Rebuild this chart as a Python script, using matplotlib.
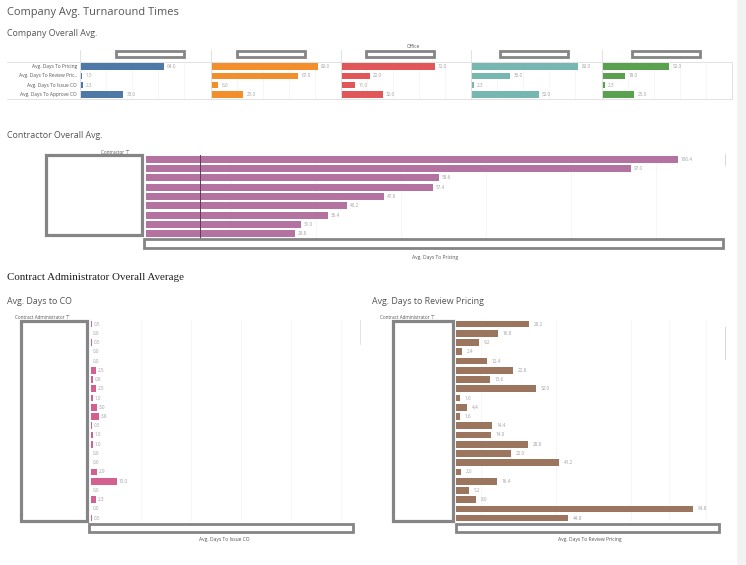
import matplotlib.pyplot as plt
from matplotlib.patches import Rectangle
from matplotlib.lines import Line2D

W, H = 746, 565

# company overall averages (days), one list per office, rows follow `measures`
measures = ["Avg. Days To Pricing", "Avg. Days To Review Pric..",
            "Avg. Days To Issue CO", "Avg. Days To Approve CO"]
office_1 = [64, 1.5, 2.3, 33]
office_2 = [82, 67, 6, 25]
office_3 = [72, 22, 11, 32]
office_4 = [82, 30, 2.3, 52]
office_5 = [52, 18, 2.3, 25]
office_colors = ["#4e79a7", "#f28e2b", "#e15759", "#76b7b2", "#59a14f"]

# contractor overall avg days to pricing (sorted desc) + reference line
contractor_days = [106.4, 97.0, 58.6, 57.4, 47.6, 40.2, 36.4, 31.0, 29.8]
contractor_ref = 10.8

# contract administrator averages
admin_days_co = [0.5, 0, 0.5, 0, 0, 2.5, 0.8, 2.5, 1.0, 3.0, 3.8,
                 0.5, 1.0, 1.0, 0, 0, 2.9, 13.0, 0, 2.3, 0, 0.5]
admin_days_review = [29.2, 16.8, 9.2, 2.4, 12.4, 22.8, 13.6, 32.0, 1.6, 4.4, 1.6,
                     14.4, 14.0, 28.8, 22.0, 41.2, 2.0, 16.4, 5.2, 8.0, 94.8, 44.8]

plt.rcParams['font.family'] = ['Open Sans', 'DejaVu Sans']

fig = plt.figure(figsize=(W / 100, H / 100), dpi=100)


def fx(x):
    return x / W


def fy(y):
    return 1 - y / H


def px_axes(x0, y0, x1, y1):
    ax = fig.add_axes([fx(x0), fy(y1), (x1 - x0) / W, (y1 - y0) / H])
    ax.axis('off')
    return ax


def line(x0, y0, x1, y1, c="#e2e2e2", lw=0.7):
    fig.add_artist(Line2D([fx(x0), fx(x1)], [fy(y0), fy(y1)], color=c, lw=lw))


def box(x0, y0, x1, y1, ec="#858585", lw=2.0, fc="none"):
    fig.add_artist(Rectangle((fx(x0), fy(y1)), (x1 - x0) / W, (y1 - y0) / H,
                             fill=(fc != "none"), fc=fc, ec=ec, lw=lw))


def label(x, y, s, size=3.6, color="#555555", ha="left", **kw):
    fig.text(fx(x), fy(y), s, fontsize=size, color=color, ha=ha, va="center", **kw)


def hbars(ax, vals, color, xmax, nrows, gap, height=0.72, grid=None):
    for g in (grid or []):
        ax.axvline(g, color="#f5f5f5", lw=0.6, zorder=0)
    ax.barh(range(len(vals)), vals, height=height, color=color, zorder=2)
    for i, v in enumerate(vals):
        ax.text(v + gap, i, f"{v:.1f}", fontsize=3.3, color="#a0a0a0",
                va="center", zorder=3)
    ax.set_xlim(0, xmax)
    ax.set_ylim(nrows - 0.5, -0.5)


# right-hand page strip
box(737, 0, 746, 565, ec="none", lw=0, fc="#f2f2f2")

# ---- titles ----
label(7, 13, "Company Avg. Turnaround Times", size=7.9, color="#555555")
label(7, 33, "Company Overall Avg.", size=6.4, color="#555555")

# ---- company overall avg ----
edges = [80, 210.5, 341, 471, 601.5, 732]
offices = [office_1, office_2, office_3, office_4, office_5]
header_centers = [150, 271, 400, 534, 666]
line(7, 62, 732, 62)
line(7, 99, 732, 99)
line(732, 62, 732, 99)
for e in edges[:-1]:
    line(e, 50, e, 99)
for k in range(5):
    ax = px_axes(edges[k], 62, edges[k + 1], 99)
    hbars(ax, offices[k], office_colors[k], 100, 4, 2.5, height=0.7,
          grid=[20, 40, 60, 80])
    c = header_centers[k]
    box(c - 34, 51, c + 34, 57)
for i, m in enumerate(measures):
    label(77, 66.6 + 9.25 * i, m, size=3.5, ha="right")
label(407, 47, "Office", size=3.5)

# ---- contractor overall avg ----
label(7, 135, "Contractor Overall Avg.", size=6.4, color="#555555")
label(101, 152, "Contractor \u22a4", size=3.3)
ax = px_axes(146, 154.5, 725, 238.5)
hbars(ax, contractor_days, "#b3729f", 115.8, 9, 0.6, height=0.74,
      grid=[17, 34, 51, 68, 85, 102])
ax.axvline(contractor_ref, color="#5e3d57", lw=0.7, zorder=4)
box(46, 155, 142, 235, lw=2.3)
box(144, 239, 723, 248)
label(435, 257, "Avg. Days To Pricing", size=3.6, ha="center")
box(724.5, 154, 726, 166, ec="none", lw=0, fc="#d9d9d9")

# ---- contract administrator ----
label(7, 277, "Contract Administrator Overall Average", size=7.9, color="#1e1e1e",
      family=["Liberation Serif", "DejaVu Serif"])
label(7, 302, "Avg. Days to CO", size=6.4, color="#555555")
label(372, 302, "Avg. Days to Review Pricing", size=6.4, color="#555555")

ax = px_axes(91, 319.4, 358, 521)
hbars(ax, admin_days_co, "#d4608f", 133.5, 21.8, 1.0, height=0.72,
      grid=[25, 50, 75, 100, 125])
box(21, 321, 87, 521, lw=2.3)
box(89, 524, 353, 532)
label(15, 317, "Contract Administrator \u22a4", size=3.3)
label(224, 540, "Avg. Days To Issue CO", size=3.6, ha="center")
box(359.5, 320, 361, 345, ec="none", lw=0, fc="#e3e3e3")

ax = px_axes(456, 319.4, 725, 521)
hbars(ax, admin_days_review, "#9c755f", 107.6, 21.8, 2.0, height=0.72,
      grid=[10, 40, 70, 85, 100])
box(393, 321, 453, 521, lw=2.3)
box(456, 524, 719, 532)
label(380, 317, "Contract Administrator \u22a4", size=3.3)
label(590, 539, "Avg. Days To Review Pricing", size=3.6, ha="center")
box(724.5, 327, 726, 360, ec="none", lw=0, fc="#d9d9d9")

fig.savefig("out.png", dpi=100)
